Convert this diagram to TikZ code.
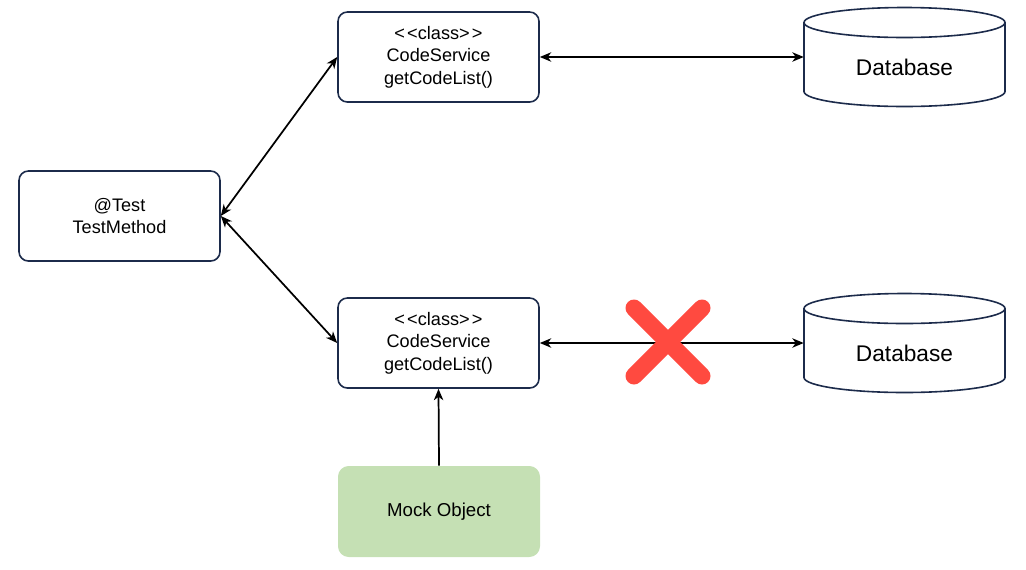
\documentclass[tikz,border=0pt]{standalone}
\usepackage{fontspec}
\setmainfont{Liberation Sans}
\usepackage{xcolor}
\usetikzlibrary{arrows.meta,positioning}
\definecolor{navy}{HTML}{1C2B4B}
\definecolor{mockgreen}{HTML}{C5E0B4}
\definecolor{crossred}{HTML}{FF4A40}
\newcommand{\stereo}{<\kern0.12em<class>\kern0.12em>}
\tikzset{
 classbox/.style={draw=navy,line width=1.2pt,rounded corners=7pt,fill=white,
  minimum width=150.75pt,minimum height=67.5pt,align=center,
  font=\fontsize{13.6pt}{17pt}\selectfont},
 mockbox/.style={fill=mockgreen,rounded corners=8pt,minimum width=151.5pt,
  minimum height=68.25pt,font=\fontsize{14pt}{17pt}\selectfont},
 dbbox/.style={minimum width=150.75pt,minimum height=51.75pt,inner sep=0pt},
 dbline/.style={draw=navy,line width=1.2pt,fill=white},
 dbtext/.style={font=\fontsize{17pt}{20pt}\selectfont},
 link/.style={line width=1.3pt,{Stealth[length=8.5pt,width=7pt,inset=2.5pt]}-{Stealth[length=8.5pt,width=7pt,inset=2.5pt]}},
 uplink/.style={line width=1.3pt,-{Stealth[length=8.5pt,width=7pt,inset=2.5pt]}},
}
\begin{document}
\begin{tikzpicture}[x=0.75pt,y=-0.75pt]
\useasboundingbox (0,0) rectangle (1026,569);
\node[classbox] (test) at (119.5,216) {@Test\\TestMethod};
\node[classbox] (svc1) at (438.5,57) {\stereo\\CodeService\\getCodeList()};
\node[classbox] (svc2) at (438.5,343) {\stereo\\CodeService\\getCodeList()};
\node[mockbox] (mock) at (439,511.5) {Mock Object};
% databases
\foreach \n/\y in {1/57,2/343}{
 \draw[dbline] (804,\y-34.5) -- (804,\y+34.5) arc(180:0:100.5 and 15) -- (1005,\y-34.5);
 \draw[dbline] (904.5,\y-34.5) ellipse (100.5 and 15);
 \node[dbbox] (db\n) at (904.5,\y) {};
 \node[dbtext] (dblabel\n) at ([yshift=-7.5pt]db\n.center) {Database};
}
\draw[link] (test.east) -- (svc1.west);
\draw[link] (test.east) -- (svc2.west);
\draw[link] (svc1.east) -- (db1.west);
\draw[link] (svc2.east) -- (db2.west);
\draw[uplink] (mock.north) -- (svc2.south);
% blocked call
\coordinate (cut) at (668,342);
\draw[crossred,line width=12.75pt,line cap=round] (cut) ++(-34,-34) -- ++(68,68)
 (cut) ++(34,-34) -- ++(-68,68);
\end{tikzpicture}
\end{document}
